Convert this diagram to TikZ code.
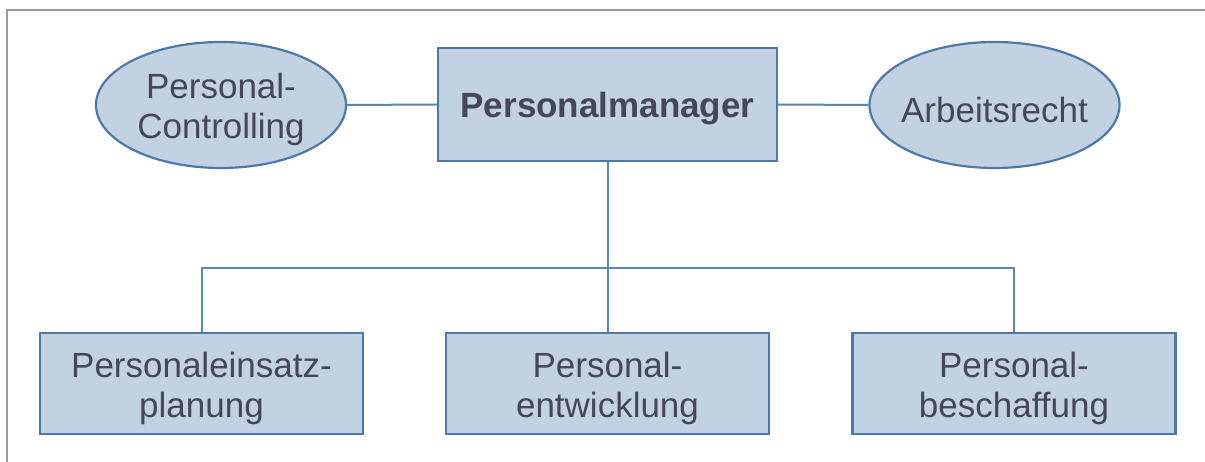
\documentclass[tikz,border=0pt]{standalone}
\usepackage{fontspec}
\setmainfont{Liberation Sans}
\usetikzlibrary{shapes.geometric}
\definecolor{boxfill}{HTML}{C2D2E3}
\definecolor{boxline}{HTML}{4C79AA}
\definecolor{wireline}{HTML}{5A86B6}
\definecolor{txt}{HTML}{45465C}
\definecolor{frame}{HTML}{9A9A9A}
\begin{document}
\begin{tikzpicture}[x=1pt,y=-1pt,
  every node/.style={inner sep=0pt},
  every label/.style={font=\fontsize{35}{40}\selectfont, text=txt, align=center, inner sep=0pt, yshift=-4.5pt},
  unit/.style={draw=boxline, fill=boxfill, line width=2.2pt, rectangle},
  topic/.style={draw=boxline, fill=boxfill, line width=2.2pt, ellipse, minimum width=250pt, minimum height=126pt},
  wire/.style={draw=wireline, line width=2pt}]
  \useasboundingbox (0,0) rectangle (1205,462);
  % outer frame (top and left edges)
  \draw[frame, line width=2.2pt] (7,462) -- (7,10) -- (1205,10);

  \node[unit, minimum width=339pt, minimum height=113pt,
        label={[font=\fontsize{35}{40}\selectfont\bfseries]center:Personalmanager}] (pm) at (607.5,104.5) {};
  \node[topic, label={center:Personal-\\Controlling}] (pc) at (221,105) {};
  \node[topic, label={center:Arbeitsrecht}] (ar) at (994.5,105) {};

  \node[unit, minimum width=323pt, minimum height=101pt, label={center:Personaleinsatz-\\planung}] (b1) at (201.5,383.5) {};
  \node[unit, minimum width=323pt, minimum height=101pt, label={center:Personal-\\entwicklung}] (b2) at (607.5,383.5) {};
  \node[unit, minimum width=323pt, minimum height=101pt, label={center:Personal-\\beschaffung}] (b3) at (1014,383.5) {};

  \coordinate (j) at (607.5,268);
  \draw[wire] (pc.east) -- (pm.west);
  \draw[wire] (pm.east) -- (ar.west);
  \draw[wire] (pm.south) -- (j);
  \draw[wire] (j) -- (b2.north);
  \draw[wire] (b1.north) |- (j) -| (b3.north);
\end{tikzpicture}
\end{document}
